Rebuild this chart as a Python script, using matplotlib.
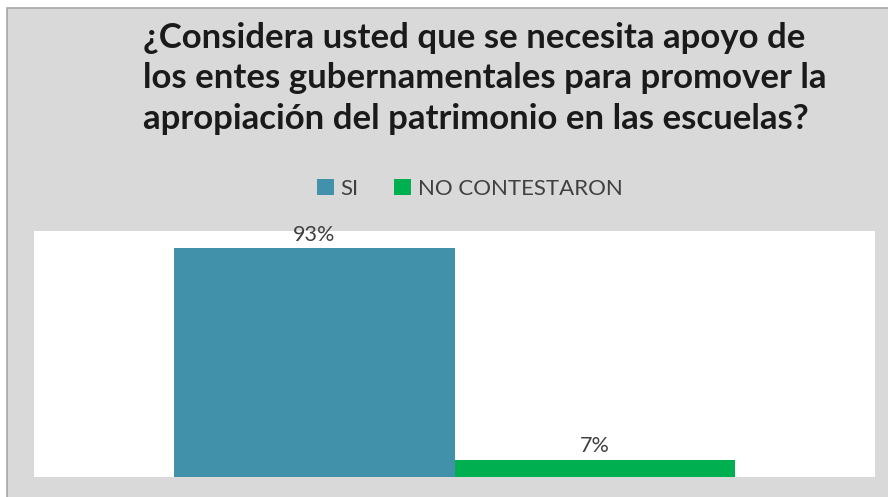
import matplotlib
matplotlib.use("Agg")
import matplotlib.pyplot as plt
from matplotlib.patches import Rectangle

title = "¿Considera usted que se necesita apoyo de\nlos entes gubernamentales para promover la\napropiación del patrimonio en las escuelas?"
series = ["SI", "NO CONTESTARON"]
values = [93, 7]
labels = ["93%", "7%"]
colors = ["#4191AA", "#00B050"]

W, H = 888, 497
fig = plt.figure(figsize=(W / 100, H / 100), dpi=100)
fig.patch.set_facecolor("white")
bg = Rectangle((7 / W, -0.05), 1.1, 1.05 - 8 / H, transform=fig.transFigure,
               facecolor="#D9D9D9", edgecolor="#A6A6A6", linewidth=1.2, zorder=-10)
fig.patches.append(bg)

ax = fig.add_axes([34 / W, 20 / H, (875 - 34) / W, (477 - 231) / H])
ax.set_facecolor("white")
width = 1 / 3
offsets = [-width / 2, width / 2]
for s, v, lab, c, off in zip(series, values, labels, colors, offsets):
    ax.bar(off, v, width=width, color=c, label=s)
    ax.text(off, v + 1.5, lab, ha="center", va="bottom", fontsize=15.5, color="#404040",
            family="Lato")
ax.set_xlim(-0.5, 0.5)
ax.set_ylim(0, 100)
ax.set_xticks([])
ax.set_yticks([])
for sp in ax.spines.values():
    sp.set_visible(False)

fig.text(143 / W, 1 - 22 / H, title, ha="left", va="top", fontsize=25, fontweight="bold",
         family="Lato", color="#1a1a1a", linespacing=1.32)

leg = fig.legend(loc="center", bbox_to_anchor=(470 / W, 1 - 189 / H), ncol=2, frameon=False,
                 handlelength=0.75, handleheight=0.75, handletextpad=0.3, columnspacing=1.6,
                 prop={"family": "Lato", "size": 16})
for t in leg.get_texts():
    t.set_color("#404040")

fig.savefig("out.png", dpi=100)
